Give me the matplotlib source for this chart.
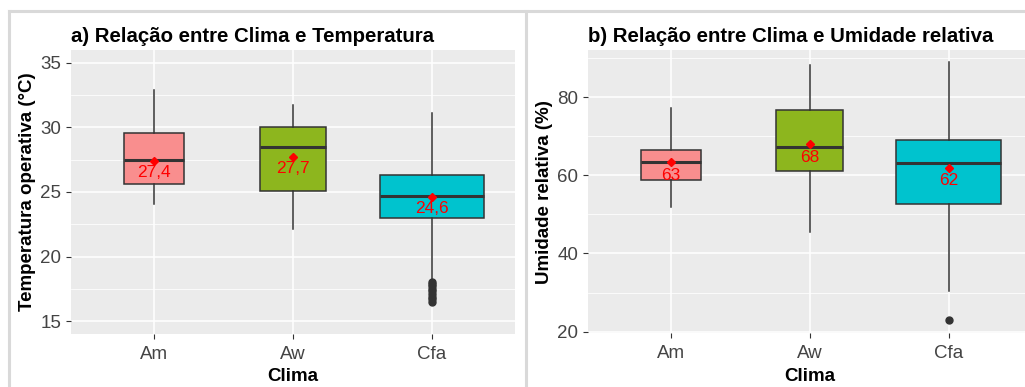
import numpy as np
import matplotlib
matplotlib.use('Agg')
import matplotlib.pyplot as plt
from matplotlib.lines import Line2D
from matplotlib.ticker import MultipleLocator

plt.rcParams['font.family'] = ['Liberation Sans', 'DejaVu Sans']

# dados
clima = ['Am', 'Aw', 'Cfa']
cores = ['#F98E8E', '#8DB61E', '#00C3CE']

# a) temperatura operativa (°C)
temp_whislo = [24.1, 22.1, 18.1]
temp_q1 = [25.6, 25.1, 23.0]
temp_med = [27.5, 28.5, 24.7]
temp_q3 = [29.6, 30.0, 26.3]
temp_whishi = [32.9, 31.7, 31.1]
temp_media = [27.4, 27.7, 24.6]
temp_rotulos = ['27,4', '27,7', '24,6']
temp_outliers = [[], [], [16.5, 16.7, 16.9, 17.1, 17.3, 17.5, 17.7, 17.9, 18.0]]

# b) umidade relativa (%)
umid_whislo = [52.0, 45.6, 30.5]
umid_q1 = [58.7, 61.0, 52.6]
umid_med = [63.5, 67.2, 63.1]
umid_q3 = [66.5, 76.7, 69.1]
umid_whishi = [77.2, 88.2, 88.9]
umid_media = [63.3, 68.0, 62.0]
umid_rotulos = ['63', '68', '62']
umid_outliers = [[], [], [22.9]]

larguras = [0.43, 0.48, 0.75]  # varwidth


def monta_stats(lo, q1, med, q3, hi, out):
    return [dict(whislo=lo[i], q1=q1[i], med=med[i], q3=q3[i], whishi=hi[i],
                 fliers=out[i], label=clima[i]) for i in range(len(clima))]


def painel(ax, stats, media, rotulos, titulo, ylabel, ylim, major, minor, dy):
    ax.set_facecolor('#EBEBEB')
    ax.yaxis.set_major_locator(MultipleLocator(major))
    ax.yaxis.set_minor_locator(MultipleLocator(minor))
    ax.grid(which='major', color='white', lw=1.1)
    ax.grid(which='minor', axis='y', color='white', lw=0.55)
    ax.set_axisbelow(True)
    bp = ax.bxp(stats, positions=[1, 2, 3], widths=larguras, patch_artist=True,
                showcaps=False,
                boxprops=dict(edgecolor='#333333', lw=1.1),
                whiskerprops=dict(color='#333333', lw=1.1),
                medianprops=dict(color='#333333', lw=2.2),
                flierprops=dict(marker='o', markerfacecolor='#333333',
                                markeredgecolor='#333333', markersize=5))
    for patch, c in zip(bp['boxes'], cores):
        patch.set_facecolor(c)
    x = [1, 2, 3]
    ax.plot(x, media, ls='none', marker='D', color='red', markersize=4.5, zorder=5)
    for xi, m, r in zip(x, media, rotulos):
        ax.annotate(r, (xi, m), xytext=(0, dy), textcoords='offset points',
                    ha='center', va='center', color='red', fontsize=12.5, zorder=6)
    ax.set_xlim(0.4, 3.6)
    ax.set_ylim(*ylim)
    ax.set_xticks(x)
    ax.set_xticklabels(clima)
    for s in ax.spines.values():
        s.set_visible(False)
    ax.tick_params(axis='both', which='major', length=3.5, color='#333333',
                   labelcolor='#444444', labelsize=13.5, width=0.8)
    ax.tick_params(axis='x', which='major', pad=5)
    ax.tick_params(axis='y', which='minor', length=0)
    ax.set_title(titulo, loc='left', fontsize=14.7, fontweight='bold', pad=6)
    ax.set_xlabel('Clima', fontsize=13.5, fontweight='bold', labelpad=4)
    ax.set_ylabel(ylabel, fontsize=13.5, fontweight='bold', labelpad=3)


fig = plt.figure(figsize=(10.25, 3.87), dpi=100)
ax1 = fig.add_axes([0.0693, 0.137, 0.4332, 0.734])
ax2 = fig.add_axes([0.5734, 0.139, 0.4332, 0.732])

painel(ax1, monta_stats(temp_whislo, temp_q1, temp_med, temp_q3, temp_whishi, temp_outliers),
       temp_media, temp_rotulos, 'a) Relação entre Clima e Temperatura',
       'Temperatura operativa (°C)', (14, 36), 5, 2.5, -8)
painel(ax2, monta_stats(umid_whislo, umid_q1, umid_med, umid_q3, umid_whishi, umid_outliers),
       umid_media, umid_rotulos, 'b) Relação entre Clima e Umidade relativa',
       'Umidade relativa (%)', (19.6, 92.1), 20, 10, -9.5)

# moldura cinza clara em volta dos painéis
moldura = dict(color='#D9D9D9', lw=2.2, transform=fig.transFigure)
fig.add_artist(Line2D([0.0088, 1.0], [0.9716, 0.9716], **moldura))
fig.add_artist(Line2D([0.0088, 0.0088], [0.0, 0.9716], **moldura))
fig.add_artist(Line2D([0.5127, 0.5127], [0.0, 0.9716], **moldura))

fig.savefig('out.png', dpi=100)
